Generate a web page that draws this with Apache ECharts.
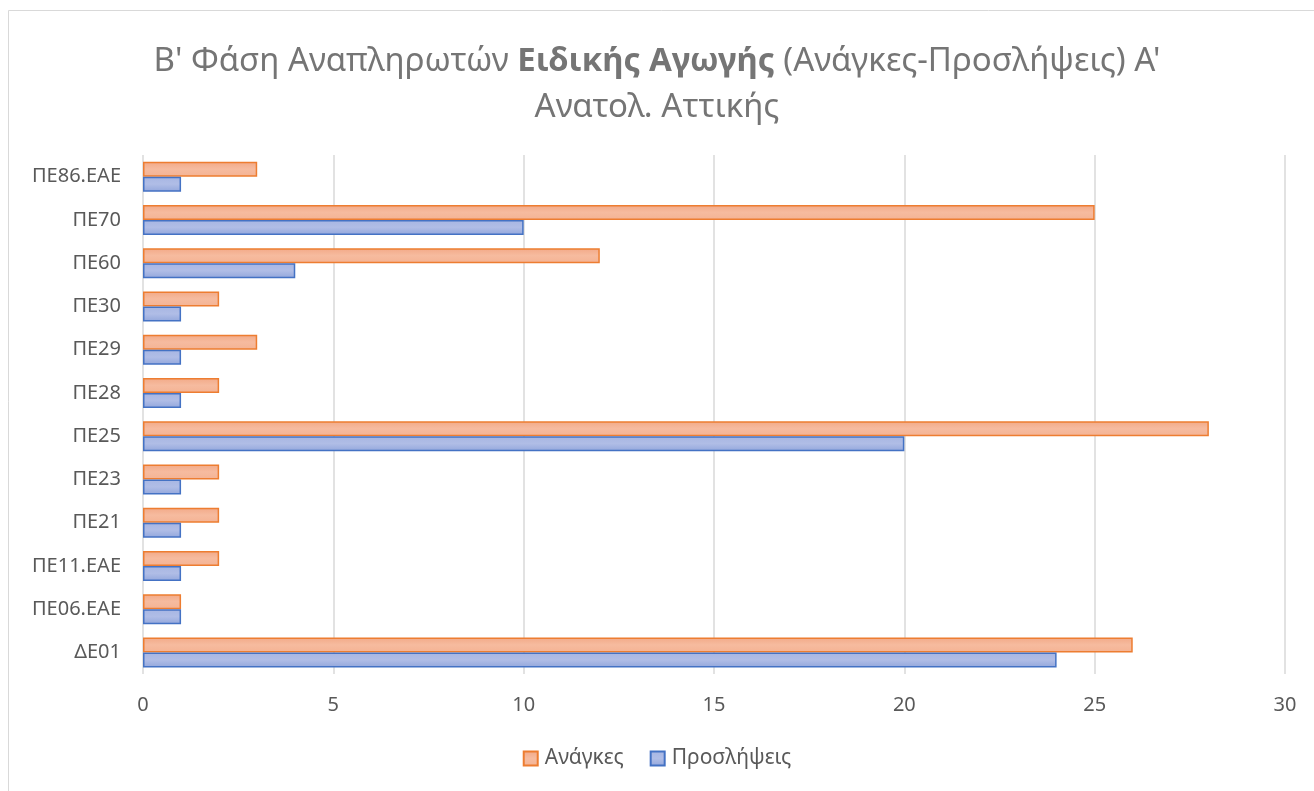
<!DOCTYPE html>
<html>
<head>
<meta charset="utf-8">
<script src="https://cdn.jsdelivr.net/npm/echarts@6/dist/echarts.min.js"></script>
<style>html,body{margin:0;padding:0;background:#fff;}#c{width:1314px;height:791px;}</style>
</head>
<body>
<div id="c"></div>
<script>
const categories = ['ΔΕ01','ΠΕ06.ΕΑΕ','ΠΕ11.ΕΑΕ','ΠΕ21','ΠΕ23','ΠΕ25','ΠΕ28','ΠΕ29','ΠΕ30','ΠΕ60','ΠΕ70','ΠΕ86.ΕΑΕ'];
const anagkes = [26,1,2,2,2,28,2,3,2,12,25,3];
const proslipseis = [24,1,1,1,1,20,1,1,1,4,10,1];
const xTicks = [0,5,10,15,20,25,30];

const FONT = 'Noto Sans';
const chart = echarts.init(document.getElementById('c'));
chart.setOption({
  backgroundColor: '#fff',
  animation: false,
  textStyle: {fontFamily: FONT},
  graphic: [{type:'rect', shape:{x:8.5,y:10.5,width:1320,height:800}, style:{fill:'none',stroke:'#D9D9D9',lineWidth:1}, silent:true}],
  title: {
    text: "{n|Β' Φάση Αναπληρωτών }{b|Ειδικής Αγωγής}{n| (Ανάγκες-Προσλήψεις) Α'}\n{n|Ανατολ. Αττικής}",
    left: 'center', top: 34,
    textStyle: {
      fontWeight: 'normal',
      rich: {
        n: {fontFamily: FONT, fontSize: 33, color: '#757575', fontWeight: 'normal', lineHeight: 46},
        b: {fontFamily: FONT, fontSize: 33, color: '#757575', fontWeight: 'bold', lineHeight: 46}
      }
    }
  },
  legend: {
    data: ['Ανάγκες','Προσλήψεις'],
    bottom: 17, left: 'center',
    icon: 'rect', itemWidth: 14, itemHeight: 14, itemGap: 26,
    textStyle: {fontFamily: FONT, fontSize: 21, color: '#595959', padding:[0,0,0,2]}
  },
  grid: {left: 143, right: 29, top: 155, bottom: 117, containLabel: false},
  xAxis: {
    type: 'value', min: 0, max: 30, interval: 5,
    axisLine: {show: false}, axisTick: {show: false},
    splitLine: {lineStyle: {color: '#D9D9D9', width: 1.5}},
    axisLabel: {fontFamily: FONT, fontSize: 20, color: '#595959', margin: 21,
      formatter: v => xTicks.includes(v) ? String(v) : ''}
  },
  yAxis: {
    type: 'category', data: categories,
    axisLine: {show: false}, axisTick: {show: false},
    axisLabel: {fontFamily: FONT, fontSize: 20, color: '#595959', margin: 22}
  },
  series: [
    {name: 'Ανάγκες', type: 'bar', data: anagkes, barWidth: 15, barGap: '0%',
      itemStyle: {color: new echarts.graphic.LinearGradient(0,0,0,1,[{offset:0,color:'#F2A987'},{offset:0.5,color:'#F6BB9F'},{offset:1,color:'#F4B394'}]), borderColor: '#ED7D31', borderWidth: 1.5}},
    {name: 'Προσλήψεις', type: 'bar', data: proslipseis, barWidth: 15, barGap: '0%',
      itemStyle: {color: new echarts.graphic.LinearGradient(0,0,0,1,[{offset:0,color:'#A7B6E3'},{offset:0.5,color:'#B0BDE6'},{offset:1,color:'#93A7DC'}]), borderColor: '#4472C4', borderWidth: 1.5}}
  ]
});
</script>
</body>
</html>
